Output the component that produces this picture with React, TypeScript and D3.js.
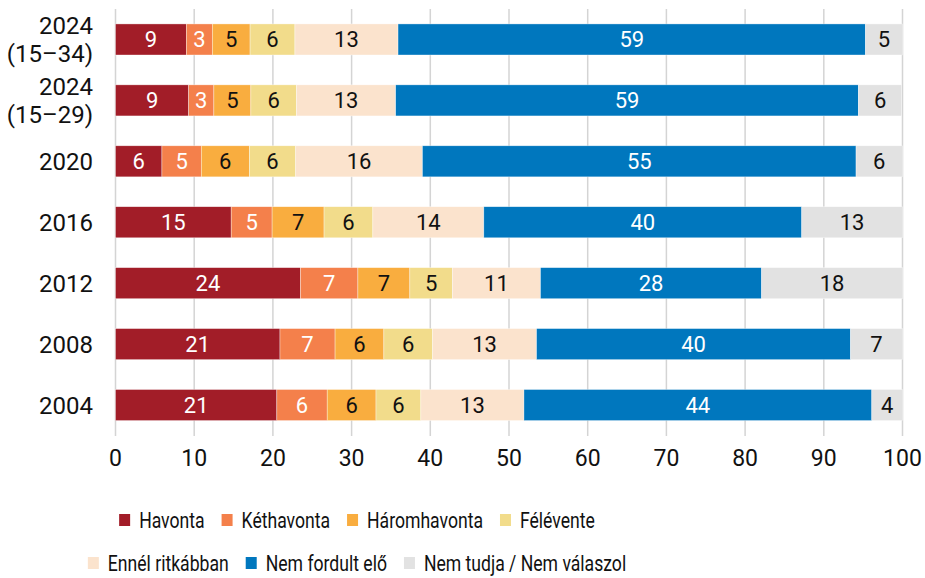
import { useEffect, useRef } from 'react';
import * as d3 from 'd3';

// categories (top to bottom), two-line labels split on \n
const categories = ["2024\n(15–34)", "2024\n(15–29)", "2020", "2016", "2012", "2008", "2004"];

const seriesNames = ["Havonta", "Kéthavonta", "Háromhavonta", "Félévente", "Ennél ritkábban", "Nem fordult elő", "Nem tudja / Nem válaszol"];
const seriesColors = ["#a21d28", "#f4804b", "#f9ad3f", "#f2dc8b", "#fbe3cd", "#0077be", "#e2e2e2"];
const labelColors = ["#fff", "#fff", "#111", "#111", "#111", "#fff", "#111"];

// values per series, in category order
const havonta = [9.0, 9.3, 5.9, 14.7, 23.5, 20.9, 20.5];
const kethavonta = [3.3, 3.2, 5.0, 5.2, 7.3, 7.0, 6.4];
const haromhavonta = [4.8, 4.7, 6.1, 6.6, 6.6, 6.2, 6.2];
const felevente = [5.7, 5.8, 5.9, 6.2, 5.4, 6.2, 5.7];
const ritkabban = [13.1, 12.6, 16.1, 14.1, 11.2, 13.2, 13.1];
const nemFordult = [59.4, 58.8, 55.1, 40.4, 28.1, 39.9, 44.2];
const nemTudja = [4.7, 5.5, 5.9, 12.8, 17.9, 6.6, 3.9];

const xTicks = [0, 10, 20, 30, 40, 50, 60, 70, 80, 90, 100];

const FONT = "Roboto, 'Noto Sans', sans-serif";

const App = () => {
  const svgRef = useRef(null);

  useEffect(() => {
    const svg = d3.select(svgRef.current);
    svg.selectAll("*").remove();

    const seriesValues = [havonta, kethavonta, haromhavonta, felevente, ritkabban, nemFordult, nemTudja];
    const rows = categories.map((c, i) => {
      const row: any = { cat: c };
      seriesNames.forEach((s, j) => { row[s] = seriesValues[j][i]; });
      return row;
    });

    const x = d3.scaleLinear().domain([0, 100]).range([115.5, 902.5]);
    const y = d3.scaleBand().domain(categories).range([9, 435.5]).paddingInner(0.49).paddingOuter(0.245);

    // grid
    svg.append("g").selectAll("line").data(xTicks).enter().append("line")
      .attr("x1", d => x(d)).attr("x2", d => x(d))
      .attr("y1", 9).attr("y2", 436)
      .style("stroke", "#d4d4d4").style("stroke-width", "1.5px");

    // tick labels
    svg.append("g").selectAll("text").data(xTicks).enter().append("text")
      .attr("x", d => x(d)).attr("y", 458).attr("dy", "0.36em")
      .style("font-family", FONT).style("font-size", "23px").style("fill", "#111")
      .style("text-anchor", "middle")
      .text(d => d);

    const stacked = d3.stack().keys(seriesNames)(rows);

    const layers = svg.append("g").selectAll("g").data(stacked).enter().append("g")
      .attr("fill", (d, i) => seriesColors[i]);

    layers.selectAll("rect").data(d => d).enter().append("rect")
      .attr("x", d => x(d[0]))
      .attr("width", d => x(d[1]) - x(d[0]))
      .attr("y", d => y(d.data.cat))
      .attr("height", y.bandwidth())
      .style("stroke", "#ffffff").style("stroke-width", "0.6px").style("stroke-opacity", 0.6);

    layers.each(function (layer, i) {
      const key = seriesNames[i];
      d3.select(this).selectAll("text").data(layer).enter().append("text")
        .attr("x", d => (x(d[0]) + x(d[1])) / 2)
        .attr("y", d => y(d.data.cat) + y.bandwidth() / 2)
        .attr("dy", "0.36em")
        .style("font-family", FONT).style("font-size", "22px")
        .style("fill", labelColors[i]).style("text-anchor", "middle")
        .text(d => Math.round(d.data[key]));
    });

    // category labels
    const catG = svg.append("g");
    categories.forEach(c => {
      const lines = c.split("\n");
      const cy = y(c) + y.bandwidth() / 2;
      const lh = 28.5;
      lines.forEach((l, k) => {
        catG.append("text")
          .attr("x", 93).attr("y", cy + (k - (lines.length - 1) / 2) * lh)
          .attr("dy", "0.36em")
          .style("font-family", FONT).style("font-size", "24px").style("fill", "#111")
          .style("text-anchor", "end")
          .text(l);
      });
    });

    // legend: two rows, text condensed a bit to match the narrow original face
    const legendRows = [[0, 1, 2, 3], [4, 5, 6]];
    const rowY = [520, 563];
    const rowCenter = 357;
    const squeeze = 0.8;
    legendRows.forEach((items, r) => {
      const g = svg.append("g");
      let cx = 0;
      items.forEach(idx => {
        g.append("rect").attr("x", cx).attr("y", rowY[r] - 6).attr("width", 11).attr("height", 12)
          .attr("fill", seriesColors[idx]);
        const t = g.append("text")
          .attr("transform", `translate(${cx + 20},${rowY[r]}) scale(${squeeze},1)`)
          .attr("dy", "0.36em")
          .style("font-family", FONT).style("font-size", "22px")
          .style("fill", "#111")
          .text(seriesNames[idx]);
        const w = (t.node() as SVGTextElement).getComputedTextLength() * squeeze;
        cx += 20 + w + 17;
      });
      const total = cx - 17;
      g.attr("transform", `translate(${rowCenter - total / 2},0)`);
    });
  }, []);

  return (
    <svg ref={svgRef} width={925} height={578}
      style={{ position: 'absolute', left: 0, top: 0, background: '#fff' }} />
  );
};

export default App;
